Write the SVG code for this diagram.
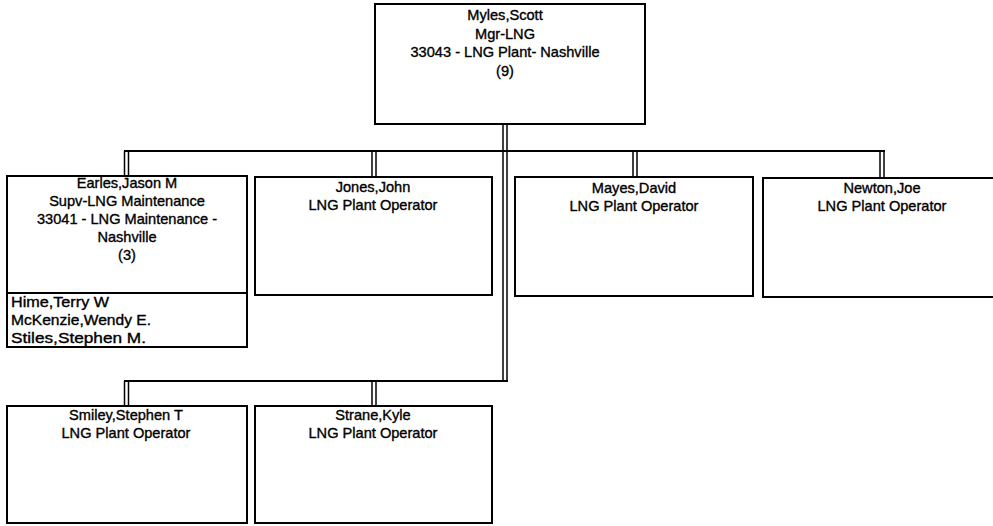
<svg xmlns="http://www.w3.org/2000/svg" width="993" height="526" viewBox="0 0 993 526">
<style>
  .box { fill: #fff; stroke: #000; stroke-width: 2; }
  .div { stroke: #000; stroke-width: 2; }
  .ln { stroke: #000; stroke-width: 1.5; fill: none; }
  .hl { stroke: #000; stroke-width: 2; fill: none; }
  text { font-family: "Liberation Sans", Arial, sans-serif; font-size: 14.6px; fill: #000; stroke: #000; stroke-width: 0.35px; }
  .c { text-anchor: middle; }
</style>
<rect x="0" y="0" width="993" height="526" fill="#fff"/>
<g id="connectors">
  <line class="ln" x1="503" y1="124" x2="503" y2="381"/>
  <line class="ln" x1="507" y1="124" x2="507" y2="381"/>
  <line class="hl" x1="124" y1="151" x2="885" y2="151"/>
  <line class="ln" x1="124.5" y1="151" x2="124.5" y2="176"/>
  <line class="ln" x1="128.5" y1="151" x2="128.5" y2="176"/>
  <line class="ln" x1="372" y1="151" x2="372" y2="177"/>
  <line class="ln" x1="376" y1="151" x2="376" y2="177"/>
  <line class="ln" x1="633" y1="151" x2="633" y2="177"/>
  <line class="ln" x1="637" y1="151" x2="637" y2="177"/>
  <line class="ln" x1="880" y1="151" x2="880" y2="178"/>
  <line class="ln" x1="884" y1="151" x2="884" y2="178"/>
  <line class="hl" x1="124" y1="381" x2="508" y2="381"/>
  <line class="ln" x1="124.5" y1="381" x2="124.5" y2="406"/>
  <line class="ln" x1="128.5" y1="381" x2="128.5" y2="406"/>
  <line class="ln" x1="372" y1="381" x2="372" y2="406"/>
  <line class="ln" x1="376" y1="381" x2="376" y2="406"/>
</g>
<g id="myles">
  <rect class="box" x="375" y="4" width="270" height="120"/>
  <text class="c" x="505" y="20">Myles,Scott</text>
  <text class="c" x="505" y="38.5">Mgr-LNG</text>
  <text class="c" x="505" y="57">33043 - LNG Plant- Nashville</text>
  <text class="c" x="505" y="75.5">(9)</text>
</g>
<g id="earles">
  <rect class="box" x="7" y="176" width="240" height="171"/>
  <line class="div" x1="7" y1="293" x2="247" y2="293"/>
  <text class="c" x="127" y="188">Earles,Jason M</text>
  <text class="c" x="127" y="206">Supv-LNG Maintenance</text>
  <text class="c" x="127" y="224">33041 - LNG Maintenance -</text>
  <text class="c" x="127" y="242">Nashville</text>
  <text class="c" x="127" y="260">(3)</text>
  <text x="11" y="307" textLength="98" lengthAdjust="spacingAndGlyphs">Hime,Terry W</text>
  <text x="11" y="325" textLength="140" lengthAdjust="spacingAndGlyphs">McKenzie,Wendy E.</text>
  <text x="11" y="343" textLength="135" lengthAdjust="spacingAndGlyphs">Stiles,Stephen M.</text>
</g>
<g id="jones">
  <rect class="box" x="255" y="177" width="237" height="118"/>
  <text class="c" x="373" y="192">Jones,John</text>
  <text class="c" x="373" y="210">LNG Plant Operator</text>
</g>
<g id="mayes">
  <rect class="box" x="515" y="177" width="238" height="119"/>
  <text class="c" x="634" y="193">Mayes,David</text>
  <text class="c" x="634" y="211">LNG Plant Operator</text>
</g>
<g id="newton">
  <rect class="box" x="763" y="178" width="238" height="119"/>
  <text class="c" x="882" y="193">Newton,Joe</text>
  <text class="c" x="882" y="211">LNG Plant Operator</text>
</g>
<g id="smiley">
  <rect class="box" x="7" y="406" width="240" height="117"/>
  <text class="c" x="126" y="420">Smiley,Stephen T</text>
  <text class="c" x="126" y="438">LNG Plant Operator</text>
</g>
<g id="strane">
  <rect class="box" x="255" y="406" width="237" height="117"/>
  <text class="c" x="373" y="420">Strane,Kyle</text>
  <text class="c" x="373" y="438">LNG Plant Operator</text>
</g>
</svg>
